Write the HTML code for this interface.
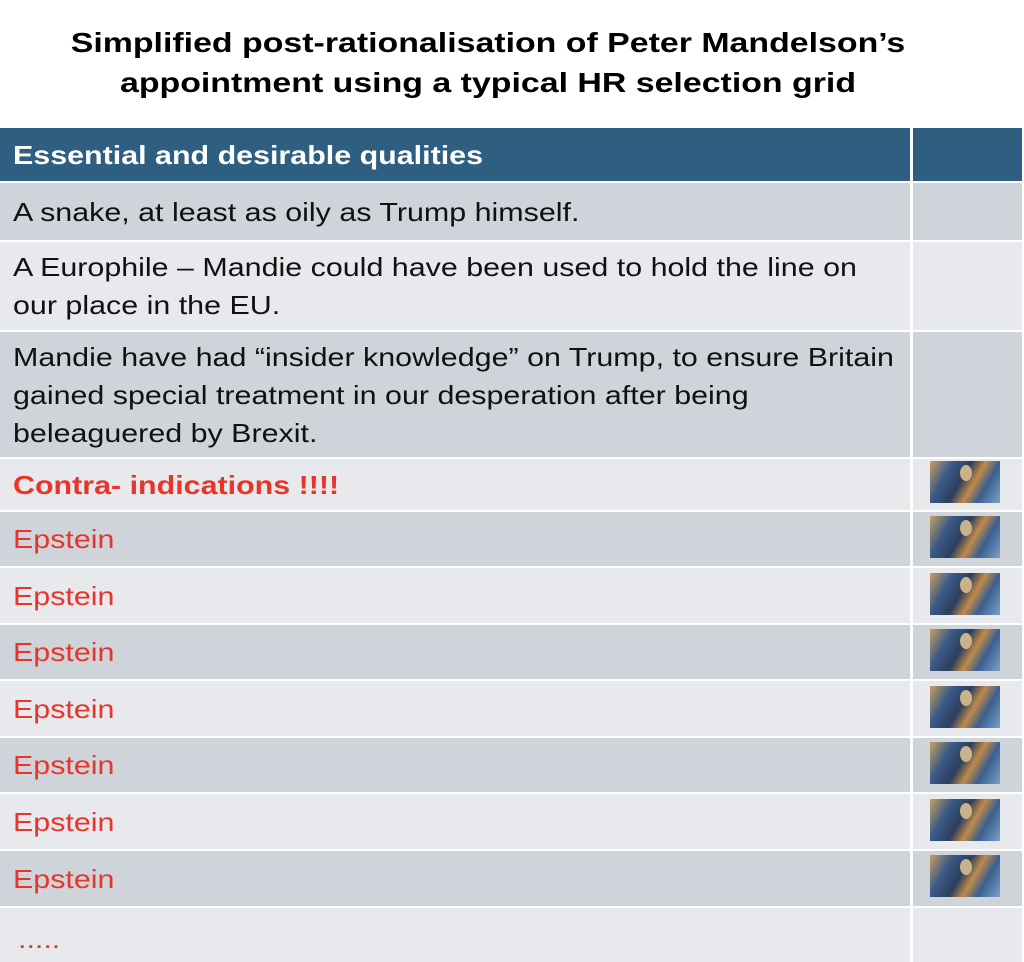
<!DOCTYPE html>
<html><head><meta charset="utf-8"><style>
body{margin:0;width:1024px;height:962px;background:#fff;position:relative;overflow:hidden;font-family:"Liberation Sans",sans-serif;}
.t{position:absolute;left:0;width:976px;text-align:center;font-weight:bold;font-size:28px;color:#000;transform:scaleX(1.21);transform-origin:488px 0;}
.r{position:absolute;left:0;width:910px;box-sizing:border-box;padding-left:13px;font-size:26px;line-height:38px;color:#111;display:flex;align-items:center;}
.r span{display:inline-block;transform:scaleX(1.17);transform-origin:0 50%;white-space:nowrap;}
.c{position:absolute;left:913px;width:109px;}
.g{background:#cfd4da}.l{background:#e7e9ec}
.red{color:#e8352a}
.ic{position:absolute;left:930px;width:70px;height:42px;background:linear-gradient(120deg,#c9a060 0%,#3a5a88 25%,#2c3e5c 45%,#c08a4a 60%,#3b5f8f 75%,#7aa0c8 100%);}
.ic::after{content:"";position:absolute;left:30px;top:4px;width:12px;height:16px;border-radius:50%;background:#c8b488;}
</style></head><body>
<div class="t" style="top:27px">Simplified post-rationalisation of Peter Mandelson’s</div>
<div class="t" style="top:67px">appointment using a typical HR selection grid</div>

<div class="r" style="top:128px;height:53px;background:#2e5f80;color:#fff;font-weight:bold"><span>Essential and desirable qualities</span></div>
<div class="c" style="top:128px;height:53px;background:#2e5f80"></div>

<div class="r g" style="top:183px;height:57px"><span>A snake, at least as oily as Trump himself.</span></div><div class="c g" style="top:183px;height:57px"></div>
<div class="r l" style="top:242px;height:88px"><span>A Europhile – Mandie could have been used to hold the line on<br>our place in the EU.</span></div><div class="c l" style="top:242px;height:88px"></div>
<div class="r g" style="top:332px;height:125px"><span>Mandie have had “insider knowledge” on Trump, to ensure Britain<br>gained special treatment in our desperation after being<br>beleaguered by Brexit.</span></div><div class="c g" style="top:332px;height:125px"></div>
<div class="r l red" style="top:459px;height:51px;font-weight:bold"><span>Contra- indications !!!!</span></div><div class="c l" style="top:459px;height:51px"></div><div class="ic" style="top:461px"></div>

<div class="r g red" style="top:512px;height:54px"><span>Epstein</span></div><div class="c g" style="top:512px;height:54px"></div><div class="ic" style="top:516px"></div>
<div class="r l red" style="top:568px;height:55px"><span>Epstein</span></div><div class="c l" style="top:568px;height:55px"></div><div class="ic" style="top:573px"></div>
<div class="r g red" style="top:625px;height:54px"><span>Epstein</span></div><div class="c g" style="top:625px;height:54px"></div><div class="ic" style="top:629px"></div>
<div class="r l red" style="top:681px;height:55px"><span>Epstein</span></div><div class="c l" style="top:681px;height:55px"></div><div class="ic" style="top:686px"></div>
<div class="r g red" style="top:738px;height:54px"><span>Epstein</span></div><div class="c g" style="top:738px;height:54px"></div><div class="ic" style="top:742px"></div>
<div class="r l red" style="top:794px;height:55px"><span>Epstein</span></div><div class="c l" style="top:794px;height:55px"></div><div class="ic" style="top:799px"></div>
<div class="r g red" style="top:851px;height:55px"><span>Epstein</span></div><div class="c g" style="top:851px;height:55px"></div><div class="ic" style="top:855px"></div>
<div class="r l red" style="top:908px;height:54px;padding-left:18px;padding-top:8px"><span>.....</span></div><div class="c l" style="top:908px;height:54px"></div>
</body></html>
